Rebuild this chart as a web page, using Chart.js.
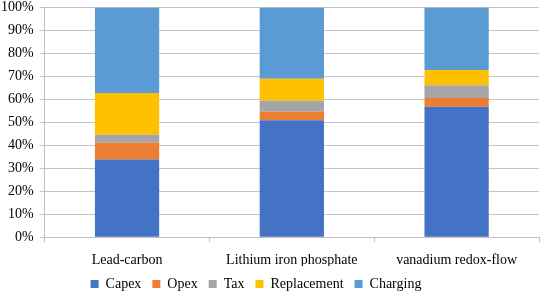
<!DOCTYPE html>
<html>
<head>
<meta charset="utf-8">
<script src="https://cdn.jsdelivr.net/npm/chart.js@4/dist/chart.umd.min.js"></script>
<style>
  html, body { margin: 0; padding: 0; background: #fff; overflow: hidden; }
  #wrap { width: 540px; height: 291px; overflow: hidden; position: relative; }
  #chart { position: absolute; left: 0; top: -7px; }
</style>
</head>
<body>
<div id="wrap"><canvas id="chart" width="540" height="308"></canvas></div>
<script>
const categories = ['Lead-carbon', 'Lithium iron phosphate', 'vanadium redox-flow'];
const capex = [33.8, 50.9, 56.8];
const opex = [7.3, 3.7, 3.8];
const tax = [3.5, 4.8, 5.5];
const replacement = [18.2, 9.6, 6.7];
const charging = [37.2, 31.0, 27.2];
const yTicks = [0, 10, 20, 30, 40, 50, 60, 70, 80, 90, 100];

const font = { family: '"Liberation Serif", "Times New Roman", serif', size: 14 };

// nudge the legend a little left, like the original
const legendShift = {
    id: 'legendShift',
    afterLayout(chart) {
        chart.legend.left -= 11;
        chart.legend.right -= 11;
    },
};

const ctx = document.getElementById('chart').getContext('2d');
new Chart(ctx, {
    type: 'bar',
    data: {
        labels: categories,
        datasets: [
            { label: 'Capex', data: capex, backgroundColor: '#4472C4' },
            { label: 'Opex', data: opex, backgroundColor: '#ED7D31' },
            { label: 'Tax', data: tax, backgroundColor: '#A5A5A5' },
            { label: 'Replacement', data: replacement, backgroundColor: '#FFC000' },
            { label: 'Charging', data: charging, backgroundColor: '#5B9BD5' },
        ],
    },
    options: {
        responsive: false,
        animation: false,
        layout: { padding: { top: 0, right: 1, left: -5, bottom: 0 } },
        datasets: { bar: { categoryPercentage: 1, barPercentage: 0.39 } },
        scales: {
            x: {
                stacked: true,
                afterFit: (axis) => { axis.height -= 13; },
                grid: { drawOnChartArea: false, color: '#bfbfbf', tickLength: 5 },
                border: { color: '#bfbfbf' },
                ticks: { color: '#000', font: font, padding: 10, maxRotation: 0 },
            },
            y: {
                stacked: true,
                min: 0,
                max: 100,
                afterBuildTicks: (axis) => { axis.ticks = yTicks.map(v => ({ value: v })); },
                grid: { color: '#c4c4c4', tickLength: 5 },
                border: { color: '#bfbfbf' },
                ticks: { color: '#000', font: font, padding: 6, callback: (v) => v + '%' },
            },
        },
        plugins: {
            legend: {
                position: 'bottom',
                labels: { color: '#000', font: font, boxWidth: 8, boxHeight: 8, padding: 11 },
            },
            tooltip: { enabled: false },
        },
    },
    plugins: [legendShift],
});
</script>
</body>
</html>
